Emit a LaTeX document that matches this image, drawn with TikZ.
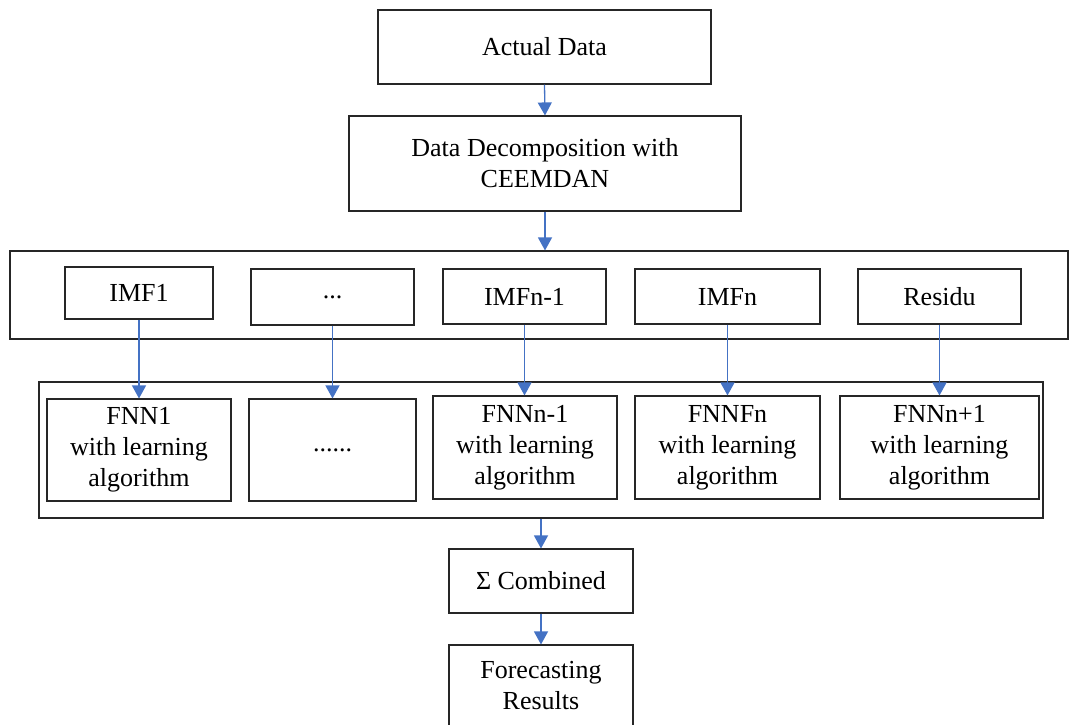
\documentclass[tikz,border=0pt]{standalone}
\usepackage{fontspec}
\setmainfont{Liberation Serif}
\usetikzlibrary{arrows.meta}
\definecolor{arrowblue}{HTML}{4472C4}
\definecolor{edgegray}{HTML}{262626}
\tikzset{
  box/.style={draw=edgegray, line width=1.1pt, rectangle, inner sep=0pt,
    align=center, font=\fontsize{26}{31}\selectfont},
  frame/.style={draw=edgegray, line width=1.1pt, rectangle, inner sep=0pt},
  flow/.style={draw=arrowblue, line width=1.3pt,
    -{Triangle[width=14pt,length=13pt]}, arrowblue},
}
\begin{document}
\begin{tikzpicture}[x=1pt,y=-1pt]
\useasboundingbox (0,0) rectangle (1069,725);

% top chain
\node[box, minimum width=333pt, minimum height=74pt] (actual) at (544.5,47) {Actual Data};
\node[box, minimum width=392pt, minimum height=95pt] (decomp) at (545,163.5) {Data Decomposition with\\CEEMDAN};

% decomposition components
\node[frame, minimum width=1058pt, minimum height=88pt] (row1) at (539,295) {};
\node[box, minimum width=148pt, minimum height=52pt] (imf1) at (139,293) {IMF1};
\node[box, minimum width=163pt, minimum height=56pt] (imfdots) at (332.5,297) {...};
\node[box, minimum width=163pt, minimum height=55pt] (imfn1) at (524.5,296.5) {IMFn-1};
\node[box, minimum width=185pt, minimum height=55pt] (imfn) at (727.5,296.5) {IMFn};
\node[box, minimum width=163pt, minimum height=55pt] (residu) at (939.5,296.5) {Residu};

% networks
\node[frame, minimum width=1004pt, minimum height=136pt] (row2) at (541,450) {};
\node[box, minimum width=184pt, minimum height=102pt] (fnn1) at (139,450) {FNN1\\with learning\\algorithm};
\node[box, minimum width=167pt, minimum height=102pt] (fnndots) at (332.5,450) {......};
\node[box, minimum width=184pt, minimum height=103pt] (fnnn1) at (525,447.5) {FNNn-1\\with learning\\algorithm};
\node[box, minimum width=185pt, minimum height=103pt] (fnnfn) at (727.5,447.5) {FNNFn\\with learning\\algorithm};
\node[box, minimum width=199pt, minimum height=103pt] (fnnlast) at (939.5,447.5) {FNNn+1\\with learning\\algorithm};

% output chain
\node[box, minimum width=184pt, minimum height=64pt] (comb) at (541,581) {Σ Combined};
\node[box, minimum width=184pt, minimum height=81pt] (fore) at (541,685.5) {Forecasting\\Results};

% connectors
\draw[flow] (actual.south) -- (decomp.north);
\draw[flow] (decomp.south) -- (decomp.south |- row1.north);
\draw[flow] (imf1.south) -- (imf1.south |- fnn1.north);
\draw[flow] (imfdots.south) -- (imfdots.south |- fnndots.north);
\draw[flow] (imfn1.south) -- (imfn1.south |- fnnn1.north);
\draw[flow] (imfn.south) -- (imfn.south |- fnnfn.north);
\draw[flow] (residu.south) -- (residu.south |- fnnlast.north);
\draw[flow] (comb.north |- row2.south) -- (comb.north);
\draw[flow] (comb.south) -- (fore.north);
\end{tikzpicture}
\end{document}
